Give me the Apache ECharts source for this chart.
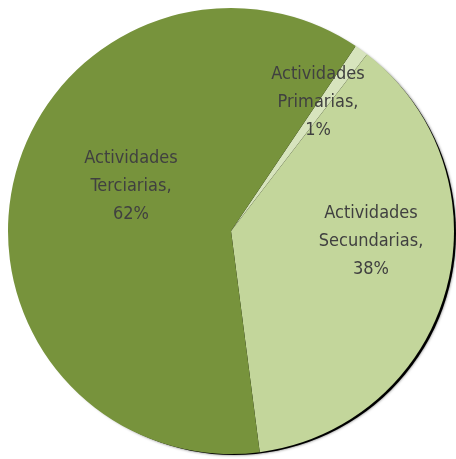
<!DOCTYPE html>
<html>
<head>
<meta charset="utf-8">
<script src="https://cdn.jsdelivr.net/npm/echarts@6/dist/echarts.min.js"></script>
<style>
  html, body { margin: 0; padding: 0; background: #fff; }
  #chart { width: 456px; height: 459px; }
</style>
</head>
<body>
<div id="chart"></div>
<script>
// sectores, en orden de las agujas del reloj desde arriba
var categories = ['Actividades\nPrimarias', 'Actividades\nSecundarias', 'Actividades\nTerciarias'];
var values = [1.0, 37.5, 61.5];
var percentLabels = ['1%', '38%', '62%'];
var colors = ['#d7e4bd', '#c3d69b', '#77933c'];
// posición de cada etiqueta (centro del bloque de texto)
var labelPos = [[318, 102], [371, 241], [131, 186]];

var dom = document.getElementById('chart');
var myChart = echarts.init(dom);

var pieData = categories.map(function (c, i) {
    return { name: c, value: values[i], itemStyle: { color: colors[i] } };
});

var option = {
    animation: false,
    series: [
        {
            // sombra del disco
            type: 'pie',
            silent: true,
            z: 1,
            center: [234, 233],
            radius: 222,
            startAngle: 90,
            label: { show: false },
            labelLine: { show: false },
            itemStyle: { color: '#000', shadowBlur: 3, shadowColor: 'rgba(0,0,0,0.6)' },
            data: [1]
        },
        {
            type: 'pie',
            z: 2,
            center: [231, 231],
            radius: 223,
            startAngle: 56,
            clockwise: true,
            itemStyle: { borderWidth: 0 },
            label: {
                show: true,
                position: 'inside',
                fontFamily: '"DejaVu Sans Condensed", "Liberation Sans", sans-serif',
                fontSize: 18,
                lineHeight: 28,
                color: '#404040',
                align: 'center',
                formatter: function (p) {
                    return p.name + ',\n' + percentLabels[p.dataIndex];
                }
            },
            labelLine: { show: false },
            labelLayout: function (p) {
                return {
                    x: labelPos[p.dataIndex][0],
                    y: labelPos[p.dataIndex][1],
                    align: 'center',
                    verticalAlign: 'middle'
                };
            },
            data: pieData
        }
    ]
};

myChart.setOption(option, true);
</script>
</body>
</html>
